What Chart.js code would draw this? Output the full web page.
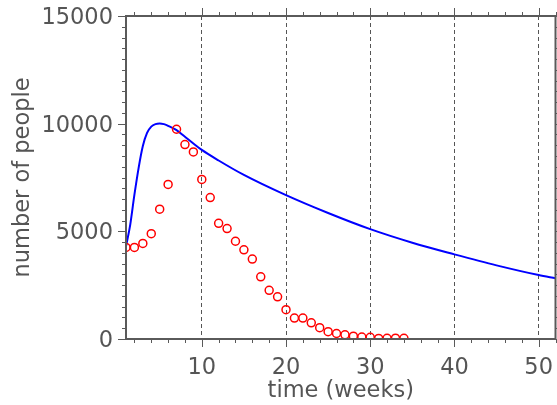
<!DOCTYPE html>
<html><head><meta charset="utf-8">
<script src="https://cdn.jsdelivr.net/npm/chart.js@4"></script>
<style>html,body{margin:0;padding:0;background:#fff}#wrap{width:557px;height:405px}</style>
</head><body><div id="wrap"><canvas id="c" width="557" height="405"></canvas></div>
<script>
// observed weekly counts (red circles)
const weeks = [1,2,3,4,5,6,7,8,9,10,11,12,13,14,15,16,17,18,19,20,21,22,23,24,25,26,27,28,29,30,31,32,33,34];
const observed = [4250,4250,4440,4890,6030,7180,9740,9030,8690,7410,6570,5370,5130,4540,4140,3710,2890,2260,1960,1360,970,970,750,525,340,255,195,130,93,78,25,35,40,30];
// model curve (blue line)
const modelWeeks = [1,1.5,2,2.5,3,3.5,4,4.5,5,5.5,6,7,8,9,10,12,15,20,25,30,35,40,45,50,52];
const modelValues = [4300,5300,6700,7950,8960,9570,9860,9980,10010,9980,9900,9700,9390,9080,8780,8290,7620,6680,5850,5100,4470,3930,3420,2970,2820];
// tick labels
const xTickValues = [10,20,30,40,50];
const yTickValues = [0,5000,10000,15000];

const FONT = 'DejaVu Sans';
const TXT = '#555555';
const AX = '#5a5a5a';

const axisBox = {
  id: 'axisBox',
  afterDraw(chart) {
    const ctx = chart.ctx, xs = chart.scales.x, ys = chart.scales.y;
    const {left, right, top, bottom} = chart.chartArea;
    ctx.save();
    ctx.strokeStyle = AX;
    ctx.lineWidth = 1;
    ctx.beginPath();
    for (let v = 2; v <= 52; v += 2) {
      const px = Math.round(xs.getPixelForValue(v)) + 0.5;
      const len = v % 10 === 0 ? 8 : 4;
      ctx.moveTo(px, bottom); ctx.lineTo(px, bottom + len);
      ctx.moveTo(px, top); ctx.lineTo(px, top - len);
    }
    for (let v = 0; v <= 15000; v += 500) {
      const py = Math.round(ys.getPixelForValue(v)) + 0.5;
      const len = v % 5000 === 0 ? 8 : 4;
      ctx.moveTo(left, py); ctx.lineTo(left - len, py);
      ctx.moveTo(right, py); ctx.lineTo(right + len, py);
    }
    ctx.stroke();
    ctx.lineWidth = 2;
    ctx.strokeRect(left, top, right - left, bottom - top);
    ctx.restore();
  }
};

new Chart(document.getElementById('c'), {
  type: 'scatter',
  data: {
    datasets: [
      {
        label: 'observed',
        data: weeks.map((w, i) => ({x: w, y: observed[i]})),
        showLine: false,
        pointStyle: 'circle',
        pointRadius: 4,
        pointBorderWidth: 1.5,
        pointBorderColor: 'rgb(255,0,0)',
        pointBackgroundColor: 'rgba(0,0,0,0)',
        order: 0
      },
      {
        label: 'model',
        data: modelWeeks.map((w, i) => ({x: w, y: modelValues[i]})),
        showLine: true,
        borderColor: 'rgb(0,0,255)',
        borderWidth: 2,
        pointRadius: 0,
        cubicInterpolationMode: 'monotone',
        order: 1
      }
    ]
  },
  options: {
    responsive: false,
    animation: false,
    devicePixelRatio: 1,
    layout: {padding: 0, autoPadding: false},
    plugins: {legend: {display: false}, tooltip: {enabled: false}},
    scales: {
      x: {
        type: 'linear', min: 1, max: 52,
        afterBuildTicks: s => { s.ticks = xTickValues.map(v => ({value: v})); },
        afterFit: s => { s.height = 66; s.paddingLeft = 0; s.paddingRight = 1.5; },
        grid: {display: true, color: '#555', lineWidth: 1, drawTicks: false},
        border: {display: false, dash: [4, 3]},
        ticks: {padding: 15.5, color: TXT, font: {family: FONT, size: 22.5}, maxRotation: 0, autoSkip: false,
                callback: v => String(v)},
        title: {display: true, text: 'time (weeks)', color: TXT, font: {family: FONT, size: 22.5}, padding: {top: 0, bottom: 0.5}}
      },
      y: {
        type: 'linear', min: 0, max: 15000,
        afterBuildTicks: s => { s.ticks = yTickValues.map(v => ({value: v})); },
        afterFit: s => { s.width = 126; s.paddingTop = 16; s.paddingBottom = 0; s.paddingLeft = 0; s.paddingRight = 0; },
        grid: {display: false, drawTicks: false},
        border: {display: false},
        ticks: {padding: 13, labelOffset: 2, color: TXT, font: {family: FONT, size: 22.5}, autoSkip: false,
                callback: v => String(v)},
        title: {display: true, text: 'number of people', color: TXT, font: {family: FONT, size: 22.5}, padding: {top: 9.5, bottom: 0}}
      }
    }
  },
  plugins: [axisBox]
});
</script>
</body></html>
